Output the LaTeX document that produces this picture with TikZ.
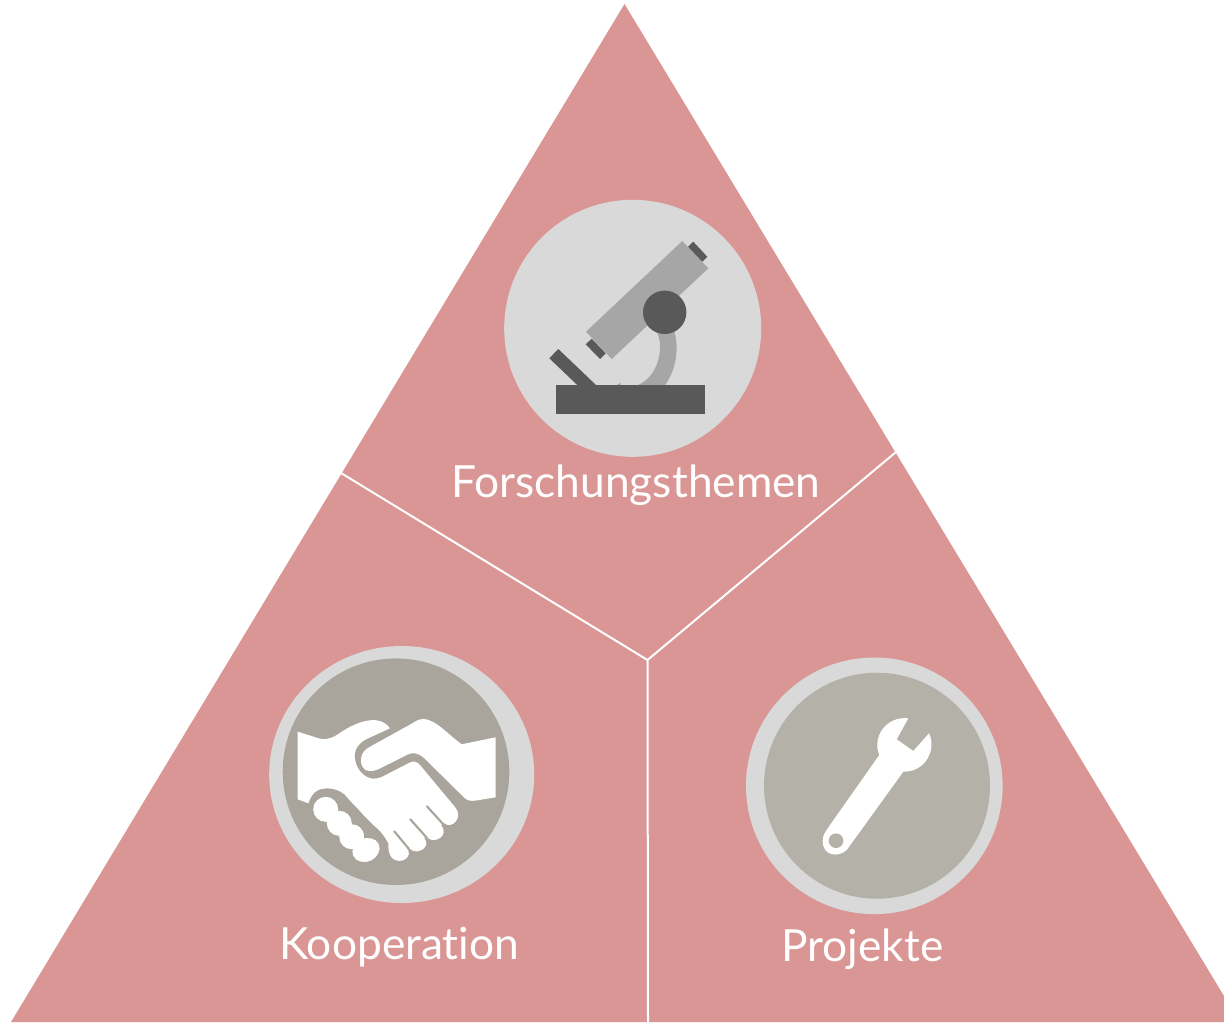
\documentclass[tikz,border=0pt]{standalone}
\usepackage{fontspec}
\setmainfont[Ligatures=NoCommon]{Lato}
\definecolor{triPink}{RGB}{218,150,149}
\definecolor{discGrey}{RGB}{217,217,217}
\definecolor{tubeGrey}{RGB}{166,166,166}
\definecolor{darkGrey}{RGB}{89,89,89}
\definecolor{handDisc}{RGB}{169,165,156}
\definecolor{wrenchDisc}{RGB}{179,177,168}
\tikzset{
	divider/.style={draw=white,line width=1.5pt},
	fingerGap/.style={draw=handDisc,line width=1.6pt},
	label/.style={anchor=base west,inner sep=0pt,text=white,font=\fontsize{33.2}{33.2}\selectfont}
}

\begin{document}
\begin{tikzpicture}[x=0.75pt,y=0.75pt,yscale=-1,xscale=1]
	\useasboundingbox (0,0) rectangle (1224,1022);

	%Shape: Triangle
	\fill [triPink] (624.5,4) -- (1224,996) -- (1224,1022) -- (11,1022) -- cycle ;

	% dividers
	\coordinate (leftEnd) at (341,473);
	\coordinate (rightEnd) at (896,452);
	\coordinate (midPoint) at (647.5,660);
	\coordinate (lowEnd) at (648,1022);
	\draw [divider] (leftEnd) -- (midPoint) -- (rightEnd);
	\draw [divider] (midPoint) -- (lowEnd);

	%Shape: Circle (microscope)
	\fill [discGrey] (632.7,328.3) circle (128.5);
	%Shape: Polygon (arm)
	\fill [tubeGrey] (674,330) .. controls (680,350) and (675,372) .. (665,385) -- (638.3,385) .. controls (660,375) and (664,345) .. (656.7,332) -- cycle ;
	\fill [tubeGrey] (617,385) -- (620.7,382.7) -- (620.7,385) -- cycle ;
	%Shape: Polygon (tube)
	\fill [tubeGrey] (682.3,241) -- (708.3,268.3) -- (611.7,359) -- (586,331.7) -- cycle ;
	\fill [darkGrey] (693.3,241.7) -- (707.3,256.7) -- (702.3,261.7) -- (688,246.7) -- cycle ;
	\fill [darkGrey] (591.7,338.7) -- (605.7,353.3) -- (600,359) -- (585.7,344.3) -- cycle ;
	%Shape: Circle (knob)
	\fill [darkGrey] (664.7,312.3) circle (21.7);
	%Shape: Polygon (mirror)
	\fill [darkGrey] (558.3,349) -- (549.3,358.3) -- (577.3,385) -- (596,385) -- cycle ;
	%Shape: Rectangle (base)
	\fill [darkGrey] (556,385) rectangle (705,414);

	%Shape: Ellipse (handshake)
	\fill [discGrey] (401.7,774.5) ellipse (132.5 and 128.5);
	\fill [handDisc] (396,771.7) circle (113.3);
	%Shape: Free Drawing (right hand)
	\fill [white] (495.7,737.3) -- (461.7,744.3) .. controls (446.7,733.3) and (435,719) .. (423.3,719) .. controls (418.3,719) and (415,721.7) .. (412,723.5) -- (370,746.7) .. controls (359,752) and (360,763) .. (362.7,767) .. controls (365,772) and (372,772) .. (378.3,769.3) -- (406.7,755) .. controls (413.3,751.7) and (418.3,753.3) .. (423.3,757.3) -- (463.3,796.7) .. controls (466.7,800.7) and (470,801) .. (475,800.7) -- (495.7,797.3) -- cycle ;
	%Shape: Free Drawing (left hand)
	\fill [white] (297.7,731.7) -- (320,738.7) .. controls (328.3,740) and (333.3,737.3) .. (338.3,734) .. controls (353.3,723.3) and (378.3,712) .. (390,728.3) -- (371.7,736.7) .. controls (358.3,741.7) and (353.3,750) .. (355,759.3) .. controls (356.7,771.7) and (368.3,783) .. (381.7,777) -- (408.3,763.3) .. controls (414,760) and (416.7,761.7) .. (420,765) -- (455,807) .. controls (464,817) and (452,830) .. (444,823) -- (441,825) .. controls (450,836) and (434,844) .. (428,838) -- (424,838) .. controls (432,846) and (418,856) .. (410,849) -- (406,847) .. controls (415,856) and (401,866) .. (392,858) .. controls (388.3,853.3) and (388.3,848.3) .. (388.3,843.3) .. controls (385,836.7) and (380,830) .. (373.3,825) -- (363.3,815) .. controls (356.7,806.7) and (351.7,803.3) .. (346.7,796.7) .. controls (340,788.3) and (326.7,786.7) .. (318.3,790) .. controls (312.7,792.7) and (310,798.3) .. (308.3,803.3) -- (297.7,799.3) -- cycle ;
	%Lines: finger gaps
	\coordinate (gapOneA) at (426.7,806);
	\coordinate (gapOneB) at (443,824);
	\coordinate (gapTwoA) at (410,819);
	\coordinate (gapTwoB) at (427,838);
	\coordinate (gapThreeA) at (394,831);
	\coordinate (gapThreeB) at (409,849);
	\draw [fingerGap] (gapOneA) -- (gapOneB);
	\draw [fingerGap] (gapTwoA) -- (gapTwoB);
	\draw [fingerGap] (gapThreeA) -- (gapThreeB);
	%Shape: Circle (knuckles)
	\fill [white] (325.7,809.3) circle (12.5);
	\fill [white] (339.3,823.3) circle (12.5);
	\fill [white] (351.7,836.7) circle (12.5);
	\fill [white, rotate around={-25:(366,850)}] (366,850) ellipse (14 and 11.5);

	%Shape: Circle (wrench)
	\fill [discGrey] (874.3,785.8) circle (128.3);
	\fill [wrenchDisc] (877,785.7) circle (113);
	%Shape: Free Drawing (wrench)
	\fill [white] (830,825) -- (879.3,755) .. controls (872,738) and (885,716) .. (908.3,718.3) -- (896.7,739.3) -- (913.3,751) -- (929,733.3) .. controls (937,750) and (925,772) .. (903.3,771.7) -- (846.7,850) .. controls (838,858) and (822,856) .. (822.7,840) .. controls (823,834) and (826,831) .. (830,825) -- cycle ;
	\fill [wrenchDisc] (836,840.7) circle (7.3);

	% Text Node
	\draw (451,497) node (lblThemen) [label] {Forschungsthemen};
	% Text Node
	\draw (279,959) node (lblKooperation) [label] {Kooperation};
	% Text Node
	\draw (781,961) node (lblProjekte) [label] {Projekte};

\end{tikzpicture}
\end{document}
